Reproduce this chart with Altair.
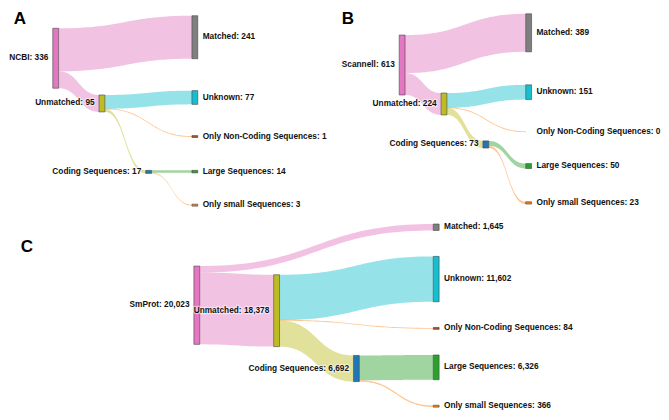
import altair as alt
import numpy as np
import pandas as pd

# ---------------- data ----------------
panel_letters = ["A", "B", "C"]
source_names = ["NCBI", "Scannell", "SmProt"]
node_names = ["Matched", "Unmatched", "Unknown", "Only Non-Coding Sequences",
              "Coding Sequences", "Large Sequences", "Only small Sequences"]
# order: source, Matched, Unmatched, Unknown, Non-Coding, Coding, Large, Small
values_A = [336, 241, 95, 77, 1, 17, 14, 3]
values_B = [613, 389, 224, 151, 0, 73, 50, 23]
values_C = [20023, 1645, 18378, 11602, 84, 6692, 6326, 366]
link_src = [0, 0, 2, 2, 2, 5, 5]
link_tgt = [1, 2, 3, 4, 5, 6, 7]

# ---------------- styles / layout ----------------
node_colors = ["#e377c2", "#7f7f7f", "#bcbd22", "#17becf", "#a0522d",
               "#1f77b4", "#2ca02c", "#ff7f0e"]
link_colors = ["#e377c2", "#e377c2", "#17becf", "#ff7f0e", "#bcbd22",
               "#2ca02c", "#ff7f0e"]
node_col = [0, 3, 1, 3, 3, 2, 3, 3]
layout = {
    "A": dict(src_h=62, cols=[45, 92.5, 140.5, 188],
              tops=[23, 10, 92, 87.5, 134, 170, 170, 205]),
    "B": dict(src_h=62, cols=[401, 444, 487, 531],
              tops=[30, 8, 90, 81.5, 130, 139.5, 163, 202.5]),
    "C": dict(src_h=81, cols=[190, 272, 354, 436],
              tops=[269, 225.5, 278, 259, 332.5, 361.5, 361, 413]),
}
letter_pos = {"A": (5, 19), "B": (342, 19), "C": (12, 254)}
NODE_W = 6
MIN_NODE = 2
MIN_LINK = 0.9
FONT = "Liberation Sans, Arial, sans-serif"
FS = 8.3

W, H = 653, 404
xs = alt.Scale(domain=[-1, 670], nice=False, zero=False)
ys = alt.Scale(domain=[2, 420], nice=False, zero=False, reverse=True)

node_rows, label_rows, link_rows, letter_rows = [], [], [], []
all_vals = [values_A, values_B, values_C]
for pi, letter in enumerate(panel_letters):
    vals = all_vals[pi]
    L = layout[letter]
    k = L["src_h"] / vals[0]
    names = [source_names[pi]] + node_names
    geo = []
    for ni, v in enumerate(vals):
        x0 = L["cols"][node_col[ni]]
        h = v * k
        hd = max(h, MIN_NODE) if v > 0 else 0
        y0 = L["tops"][ni]
        geo.append((x0, y0, h, hd))
        if v > 0:
            node_rows.append(dict(x=x0, x2=x0 + NODE_W, y=y0, y2=y0 + hd,
                                  fill=node_colors[ni]))
        right = node_col[ni] == 3
        label_rows.append(dict(x=x0 + NODE_W + 5 if right else x0 - 4.5,
                               y=y0 + hd / 2,
                               text=f"{names[ni]}: {v:,}",
                               side="left" if right else "right"))
    out_off = [0.0] * len(vals)
    order = sorted(range(len(link_src)),
                   key=lambda i: (link_src[i], L["tops"][link_tgt[i]]))
    t = np.linspace(0, 1, 49)
    for li in order:
        s, tg = link_src[li], link_tgt[li]
        v = vals[tg]
        w = v * k
        sx = geo[s][0] + NODE_W
        sy0 = geo[s][1] + out_off[s]
        out_off[s] += w
        tx = geo[tg][0]
        ty0 = geo[tg][1] + max(geo[tg][3] - w, 0) / 2
        wd = max(w, MIN_LINK)
        sc = sy0 + w / 2
        tc = ty0 + w / 2
        xm = (sx + tx) / 2
        bx = (1 - t) ** 3 * sx + 3 * (1 - t) ** 2 * t * xm + 3 * (1 - t) * t ** 2 * xm + t ** 3 * tx
        f = 3 * t ** 2 - 2 * t ** 3
        cy = sc + (tc - sc) * f
        for xx, yy in zip(bx, cy):
            link_rows.append(dict(id=f"{letter}{li}", x=xx, y=yy - wd / 2,
                                  y2=yy + wd / 2, color=link_colors[li]))
    lx, ly = letter_pos[letter]
    letter_rows.append(dict(x=lx, y=ly, text=letter))

links_df = pd.DataFrame(link_rows)
nodes_df = pd.DataFrame(node_rows)
labels_df = pd.DataFrame(label_rows)
letters_df = pd.DataFrame(letter_rows)

X = lambda f="x": alt.X(f"{f}:Q", scale=xs, axis=None)
Y = lambda f="y": alt.Y(f"{f}:Q", scale=ys, axis=None, stack=None)

links = alt.Chart(links_df).mark_area(opacity=0.45, interpolate="linear").encode(
    x=X(), y=Y(), y2="y2:Q", detail="id:N",
    color=alt.Color("color:N", scale=None))

nodes = alt.Chart(nodes_df).mark_rect(stroke="#444", strokeWidth=0.6).encode(
    x=X(), x2="x2:Q", y=Y(), y2="y2:Q",
    color=alt.Color("fill:N", scale=None))

text_layers = []
for side in ["left", "right"]:
    base = alt.Chart(labels_df).transform_filter(alt.datum.side == side)
    halo = base.mark_text(align=side, baseline="middle", font=FONT, fontSize=FS,
                          fontWeight="bold", color="white", stroke="white",
                          strokeWidth=2.5, strokeOpacity=0.65, strokeJoin="round",
                          opacity=0.8).encode(x=X(), y=Y(), text="text:N")
    txt = base.mark_text(align=side, baseline="middle", font=FONT, fontSize=FS,
                         fontWeight="bold", color="#111").encode(
        x=X(), y=Y(), text="text:N")
    text_layers += [halo, txt]

letters = alt.Chart(letters_df).mark_text(
    align="left", baseline="alphabetic", font=FONT, fontSize=17,
    fontWeight="bold", color="#000").encode(x=X(), y=Y(), text="text:N")

chart = alt.layer(links, nodes, *text_layers, letters).properties(
    width=W, height=H, padding=0, autosize="none"
).configure_view(stroke=None)

chart.save("out.html", embed_options={"renderer": "svg", "actions": False})
